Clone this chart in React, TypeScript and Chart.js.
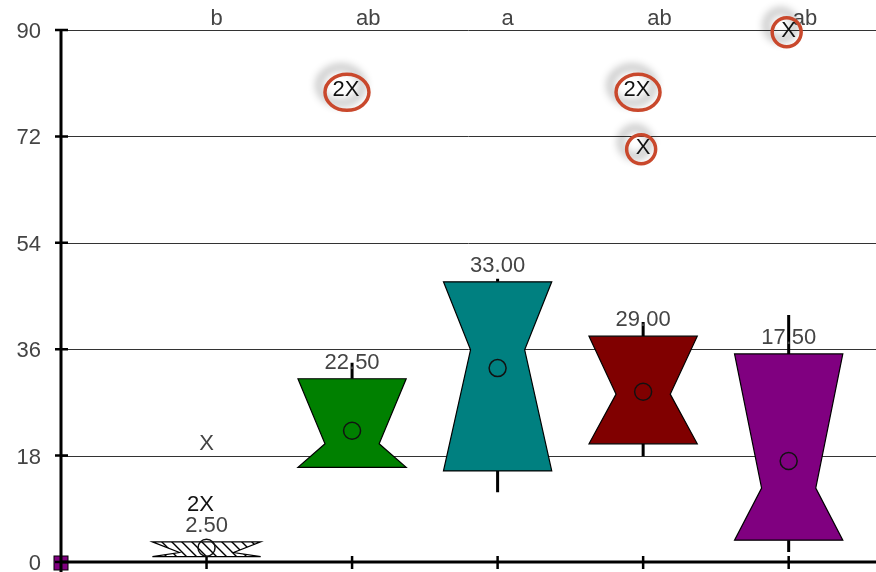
import React, { useEffect, useRef } from "react";
import { Chart, registerables } from "chart.js";
Chart.register(...registerables);

const groups = ["1", "2", "3", "4", "5"];
const letters = ["b", "ab", "a", "ab", "ab"];
const q1 = [0.9, 16.0, 15.4, 20.0, 3.7];
const q3 = [3.4, 31.0, 47.4, 38.2, 35.2];
const notchCenter = [1.6, 20.0, 35.9, 28.4, 12.5];
const means = [2.4, 22.2, 32.8, 28.8, 17.1];
const whiskerLo = [0.9, 15.9, 11.8, 17.9, 1.7];
const whiskerHi = [3.4, 33.7, 47.9, 40.6, 41.8];
const medianLabels = [2.5, 22.5, 33.0, 29.0, 17.5];
const boxColors = ["hatch", "#008000", "#008080", "#800000", "#800080"];

const outlierGroup = [0, 0, 1, 3, 3, 4];
const outlierValue = [20, 9.6, 79.8, 79.8, 70, 89.8];
const outlierCount = [1, 2, 2, 2, 1, 1];
const outlierCircled = [false, false, true, true, true, true];

const yTicks = [0, 18, 36, 54, 72, 90];

const FONT = "Liberation Sans, Arial, sans-serif";
const FS = 22;

function makeHatch(ctx: CanvasRenderingContext2D) {
  const c = document.createElement("canvas");
  c.width = 10;
  c.height = 10;
  const g = c.getContext("2d")!;
  g.fillStyle = "#fff";
  g.fillRect(0, 0, 10, 10);
  g.strokeStyle = "#000";
  g.lineWidth = 1.4;
  g.beginPath();
  g.moveTo(0, 0);
  g.lineTo(10, 10);
  g.moveTo(-5, 5);
  g.lineTo(5, 15);
  g.moveTo(5, -5);
  g.lineTo(15, 5);
  g.stroke();
  return ctx.createPattern(c, "repeat")!;
}

const boxPlugin = {
  id: "boxPlugin",
  afterDraw(chart: any) {
    const ctx: CanvasRenderingContext2D = chart.ctx;
    const xs = chart.scales.x;
    const ys = chart.scales.y;
    const area = chart.chartArea;
    const unit = xs.getPixelForValue(1) - xs.getPixelForValue(0);
    const hw = unit * 0.372;
    ctx.save();

    const ox = xs.getPixelForValue(0);
    const oy = ys.getPixelForValue(0);

    // grid lines + tick labels
    ctx.strokeStyle = "#333";
    ctx.lineWidth = 1;
    ctx.font = `${FS}px ${FONT}`;
    ctx.fillStyle = "#444";
    ctx.textAlign = "right";
    ctx.textBaseline = "middle";
    yTicks.forEach((t) => {
      const py = Math.round(ys.getPixelForValue(t)) + 0.5;
      ctx.beginPath();
      ctx.moveTo(ox, py);
      ctx.lineTo(area.right, py);
      ctx.stroke();
      ctx.fillText(String(t), ox - 20, py + 1);
    });

    // origin marker
    ctx.fillStyle = "#800080";
    ctx.fillRect(ox - 7, oy - 6, 14, 14);
    ctx.strokeStyle = "#000";
    ctx.lineWidth = 1;
    ctx.strokeRect(ox - 7, oy - 6, 14, 14);

    // axes
    ctx.strokeStyle = "#000";
    ctx.lineWidth = 3;
    ctx.beginPath();
    ctx.moveTo(ox, area.top);
    ctx.lineTo(ox, 572);
    ctx.moveTo(ox, oy);
    ctx.lineTo(area.right, oy);
    ctx.stroke();
    ctx.lineWidth = 2.5;
    ctx.beginPath();
    yTicks.forEach((t) => {
      const py = ys.getPixelForValue(t);
      ctx.moveTo(ox - 6, py);
      ctx.lineTo(ox + 7, py);
    });
    groups.forEach((_, i) => {
      const px = xs.getPixelForValue(i + 1);
      ctx.moveTo(px, oy - 6);
      ctx.lineTo(px, oy + 7);
    });
    ctx.stroke();

    groups.forEach((_, i) => {
      const cx = xs.getPixelForValue(i + 1);
      const yq1 = ys.getPixelForValue(q1[i]);
      const yq3 = ys.getPixelForValue(q3[i]);
      const yn = ys.getPixelForValue(notchCenter[i]);
      // whiskers
      ctx.strokeStyle = "#000";
      ctx.lineWidth = 3;
      ctx.beginPath();
      ctx.moveTo(cx, ys.getPixelForValue(whiskerHi[i]));
      ctx.lineTo(cx, yq3);
      ctx.moveTo(cx, yq1);
      ctx.lineTo(cx, ys.getPixelForValue(whiskerLo[i]));
      ctx.stroke();
      // notched box
      ctx.beginPath();
      ctx.moveTo(cx - hw, yq3);
      ctx.lineTo(cx - hw / 2, yn);
      ctx.lineTo(cx - hw, yq1);
      ctx.lineTo(cx + hw, yq1);
      ctx.lineTo(cx + hw / 2, yn);
      ctx.lineTo(cx + hw, yq3);
      ctx.closePath();
      ctx.fillStyle = boxColors[i] === "hatch" ? makeHatch(ctx) : boxColors[i];
      ctx.fill();
      ctx.lineWidth = 1.2;
      ctx.strokeStyle = "#000";
      ctx.stroke();
      // mean circle
      ctx.beginPath();
      ctx.arc(cx, ys.getPixelForValue(means[i]), 8.5, 0, Math.PI * 2);
      ctx.lineWidth = 1.5;
      ctx.strokeStyle = "#111";
      ctx.stroke();
      // median label
      ctx.font = `${FS}px ${FONT}`;
      ctx.fillStyle = "#444";
      ctx.textAlign = "center";
      ctx.textBaseline = "alphabetic";
      ctx.fillText(medianLabels[i].toFixed(2), cx, yq3 - 10);
      // letter
      ctx.textAlign = "left";
      ctx.fillText(letters[i], cx + 4, 25);
    });

    // outliers
    outlierGroup.forEach((g, k) => {
      const cx = xs.getPixelForValue(g + 1);
      const py = ys.getPixelForValue(outlierValue[k]);
      const txt = outlierCount[k] > 1 ? `${outlierCount[k]}X` : "X";
      ctx.font = `${FS}px ${FONT}`;
      const wX = ctx.measureText("X").width;
      const wT = ctx.measureText(txt).width;
      const right = cx + wX / 2;
      const tc = right - wT / 2;
      if (outlierCircled[k]) {
        ctx.save();
        ctx.shadowColor = "rgba(0,0,0,0.45)";
        ctx.shadowBlur = 9;
        ctx.shadowOffsetX = -6;
        ctx.shadowOffsetY = -7;
        ctx.strokeStyle = "#c9482c";
        ctx.lineWidth = 3.5;
        ctx.beginPath();
        if (outlierCount[k] > 1) ctx.ellipse(tc + 1, py + 2, 22, 18, 0, 0, Math.PI * 2);
        else ctx.arc(tc - 2, py + 1, 14.5, 0, Math.PI * 2);
        ctx.stroke();
        ctx.restore();
      }
      ctx.fillStyle = outlierCount[k] > 1 || outlierCircled[k] ? "#111" : "#444";
      ctx.textAlign = "right";
      ctx.textBaseline = "middle";
      ctx.fillText(txt, right, py);
    });
    ctx.restore();
  },
};

export default function App() {
  const ref = useRef<HTMLCanvasElement>(null);
  useEffect(() => {
    document.body.style.margin = "0";
    const chart = new Chart(ref.current!, {
      type: "scatter",
      data: { datasets: [{ data: [], showLine: false }] },
      options: {
        animation: false,
        responsive: false,
        devicePixelRatio: 1,
        layout: { padding: { top: 30, bottom: 10, left: 61, right: 0 } },
        plugins: { legend: { display: false }, tooltip: { enabled: false } },
        scales: {
          x: { type: "linear", min: 0, max: 5.6, display: false },
          y: { type: "linear", min: 0, max: 90, display: false },
        },
      },
      plugins: [boxPlugin],
    });
    return () => chart.destroy();
  }, []);
  return <canvas ref={ref} width={876} height={572} style={{ display: "block" }} />;
}
